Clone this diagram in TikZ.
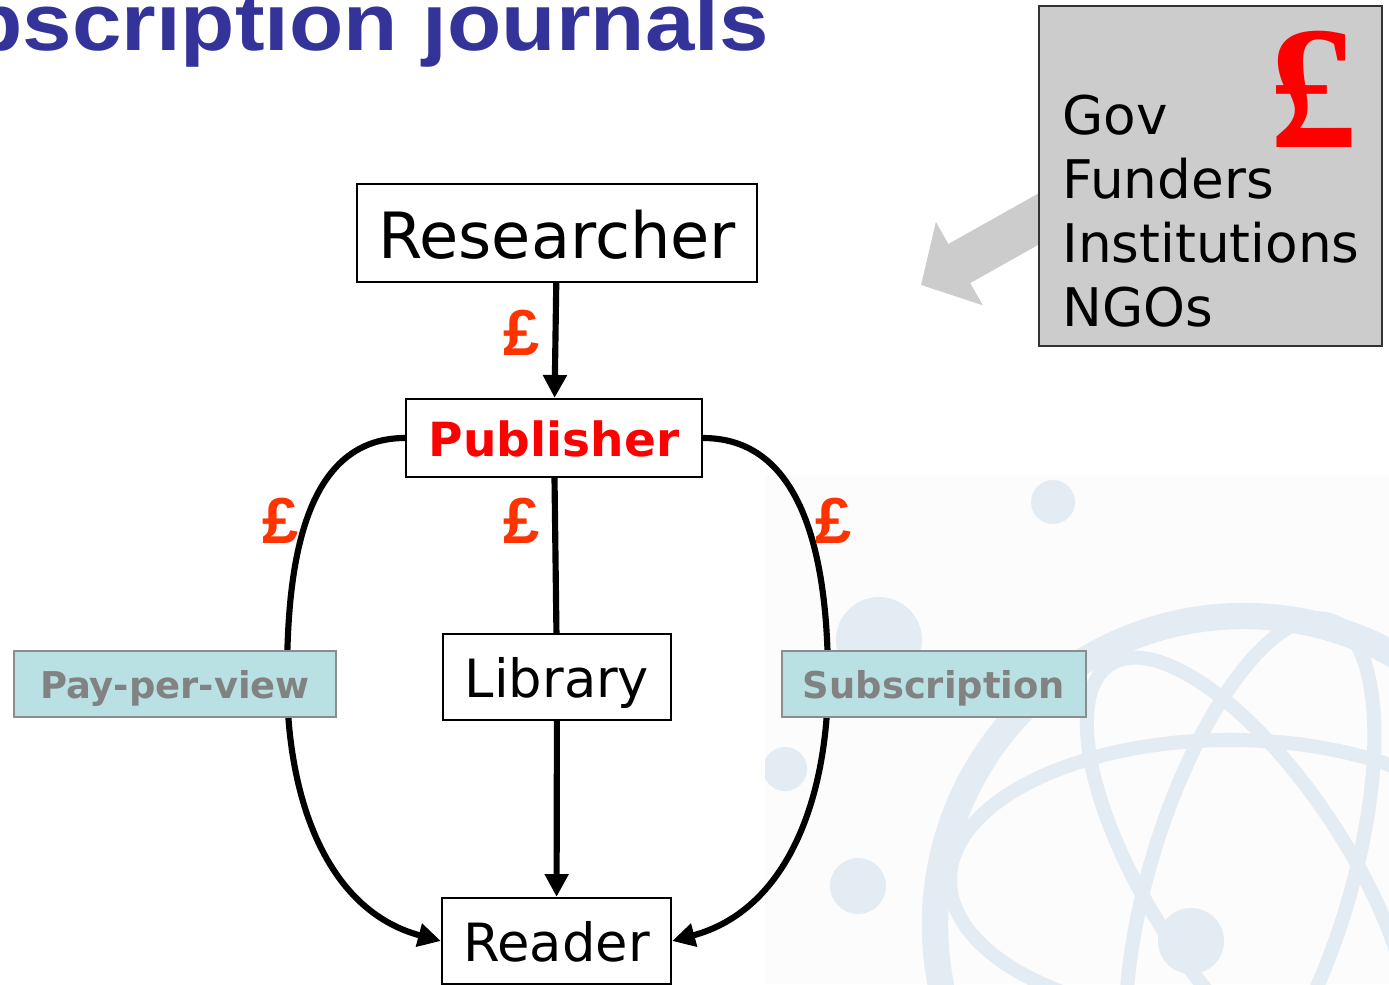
\documentclass[tikz,border=0pt]{standalone}
\usepackage{fontspec}
\setmainfont{DejaVu Sans}
\newfontfamily\titlefont[FakeStretch=1.1]{Liberation Sans}
\newfontfamily\poundfont{Liberation Sans}
\newfontfamily\bigpoundfont{Liberation Serif}
\usetikzlibrary{arrows.meta,backgrounds}
\definecolor{titleblue}{HTML}{333399}
\definecolor{poundred}{HTML}{FF3300}
\definecolor{tagfill}{HTML}{B9E0E3}
\definecolor{tagtext}{HTML}{828282}
\definecolor{tagedge}{HTML}{8C8C8C}
\definecolor{govgray}{HTML}{CCCCCC}
\definecolor{markblue}{HTML}{E4ECF3}
\newcommand{\vstrut}{\rule[-0.25em]{0pt}{1.295em}}

\begin{document}
\begin{tikzpicture}[x=0.02cm, y=-0.02cm,
    box/.style={draw, line width=1.3pt, fill=white, inner sep=0pt, execute at begin node=\vstrut},
    tag/.style={draw=tagedge, line width=1.4pt, fill=tagfill, text=tagtext, inner sep=0pt,
      minimum height=1.32cm, font=\bfseries\fontsize{21}{25}\selectfont, execute at begin node=\vstrut},
    pound/.style={text=poundred, inner sep=0pt, font=\poundfont\bfseries\fontsize{37}{44}\selectfont},
    flow/.style={line width=3.5pt, -{Triangle[length=13pt,width=13pt]}},
    link/.style={line width=3.5pt},
    orbit/.style={markblue, line width=8pt},
    govarrow/.style={govgray, line width=25.5pt, -{Triangle[length=25pt,width=53pt]}}]
  \useasboundingbox (0,0) rectangle (1389,984);

  % title, cut at the left edge
  \node[anchor=base east, inner sep=0pt, text=titleblue, font=\titlefont\bfseries\fontsize{46}{55}\selectfont] (title) at (769,50) {Subscription journals};

  % chain of boxes
  \node[box, minimum width=8cm, minimum height=1.96cm, font=\fontsize{36.3}{44}\selectfont] (researcher) at (557,233) {Researcher};
  \node[box, minimum width=5.92cm, minimum height=1.56cm, text=red, font=\bfseries\fontsize{26.8}{32}\selectfont] (publisher) at (554,438) {Publisher};
  \node[box, minimum width=4.56cm, minimum height=1.72cm, font=\fontsize{30}{36}\selectfont] (library) at (557,677) {Library};
  \node[box, minimum width=4.58cm, minimum height=1.72cm, font=\fontsize{30}{36}\selectfont] (reader) at (556.5,941) {Reader};

  \coordinate (ppvturn) at (287,680);
  \coordinate (subturn) at (828,680);

  \draw[flow] (researcher) -- (publisher);
  \draw[link] (publisher) -- (library);
  \draw[flow] (library) -- (reader);
  \draw[flow] (publisher.west) to[out=180, in=90] (ppvturn) to[out=-90, in=165] (reader.west);
  \draw[flow] (publisher.east) to[out=0, in=90] (subturn) to[out=-90, in=15] (reader.east);

  \node[pound] (pay1) at (522,333) {£};
  \node[pound] (pay2) at (281,521) {£};
  \node[pound] (pay3) at (522,521) {£};
  \node[pound] (pay4) at (834,521) {£};

  \node[tag, minimum width=6.44cm] (ppv) at (175,684) {Pay-per-view};
  \node[tag, minimum width=6.08cm] (sub) at (934,684) {Subscription};

  % funders
  \node[draw=black!80, line width=1.3pt, fill=govgray, minimum width=6.86cm, minimum height=6.8cm] (gov) at (1210.5,176) {};
  \node[anchor=base west, inner sep=0pt, align=left, font=\fontsize{30.3}{36.3}\selectfont] (govlist) at (1062,326) {Gov\\Funders\\Institutions\\NGOs};
  \node[inner sep=0pt, text=red, font=\bigpoundfont\bfseries\fontsize{100}{115}\selectfont] (govpound) at (1313,89) {£};
  \coordinate (govtip) at (921,285);

  \begin{scope}[on background layer]
    \fill[black!1] (765,475) rectangle (1389,984);
    \begin{scope}
      \clip (765,475) rectangle (1389,984);
      \draw[markblue, line width=15pt] (1244,925) circle (309);
      \draw[orbit] (1230,880) ellipse [x radius=280, y radius=140];
      \draw[orbit, rotate around={-57:(1250,880)}] (1250,880) ellipse [x radius=257, y radius=100];
      \draw[orbit, rotate around={73:(1250,880)}] (1250,880) ellipse [x radius=272, y radius=100];
      \fill[markblue] (1053,502) circle (22) (879,640) circle (43) (785,769) circle (22)
        (858,886) circle (28) (1191,941) circle (33);
    \end{scope}
    \draw[govarrow] ([shift={(31,26)}]gov.west) -- (govtip);
  \end{scope}
\end{tikzpicture}
\end{document}
